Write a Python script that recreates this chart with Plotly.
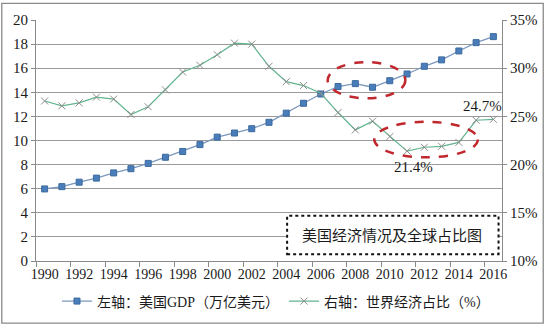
import plotly.graph_objects as go

# Years covered
years = list(range(1990, 2017))

# US GDP, trillions of USD (left axis)
us_gdp = [5.98, 6.17, 6.54, 6.88, 7.31, 7.66, 8.10, 8.61, 9.09, 9.66,
          10.28, 10.62, 10.98, 11.51, 12.27, 13.09, 13.86, 14.48, 14.72, 14.42,
          14.96, 15.52, 16.16, 16.69, 17.43, 18.12, 18.62]

# US share of world economy, % (right axis)
world_share = [26.6, 26.1, 26.4, 27.0, 26.8, 25.2, 26.0, 27.75, 29.6, 30.3,
               31.4, 32.6, 32.5, 30.2, 28.6, 28.2, 27.4, 25.4, 23.6, 24.5,
               22.9, 21.4, 21.8, 21.9, 22.3, 24.6, 24.7]

x_tick_years = list(range(1990, 2017, 2))

series_names = ["左轴：美国GDP（万亿美元）", "右轴：世界经济占比（%）"]
box_title = "美国经济情况及全球占比图"

SERIF = "'Liberation Serif', 'Times New Roman', 'DejaVu Serif', 'Noto Sans CJK SC', serif"
RED = "#C0282E"
TEXT = "#1a1a1a"

fig = go.Figure()

fig.add_trace(go.Scatter(
    x=years, y=us_gdp, name=series_names[0], mode="lines+markers",
    line=dict(color="#7C97BC", width=1.3),
    marker=dict(symbol="square", size=6, color="#4A7EBB",
                line=dict(color="#3B6A9E", width=1)),
    yaxis="y",
))

fig.add_trace(go.Scatter(
    x=years, y=world_share, name=series_names[1], mode="lines+markers",
    line=dict(color="#62B48E", width=1.2),
    marker=dict(symbol="x-thin", size=7, color="#8C8C8C",
                line=dict(color="#8C8C8C", width=1)),
    yaxis="y2",
))

# Value callouts for the end points of the share series
fig.add_annotation(x=2016, y=24.7, yref="y2", text="24.7%", showarrow=False,
                   xanchor="right", yanchor="middle", xshift=11, yshift=13,
                   font=dict(family=SERIF, size=15, color=TEXT))
fig.add_annotation(x=2011, y=21.4, yref="y2", text="21.4%", showarrow=False,
                   xanchor="center", yanchor="middle", xshift=6, yshift=-16,
                   font=dict(family=SERIF, size=15, color=TEXT))

# Dashed highlight ellipses
fig.add_shape(type="circle", xref="x", yref="y",
              x0=2006.4, x1=2010.9, y0=13.5, y1=16.5,
              line=dict(color=RED, width=2.5, dash="dash"))
fig.add_shape(type="circle", xref="x", yref="y",
              x0=2009.1, x1=2015.1, y0=8.6, y1=11.55,
              line=dict(color=RED, width=2.5, dash="dash"))

# Title box with dotted border
fig.add_shape(type="rect", xref="x", yref="y",
              x0=2004.05, x1=2016.3, y0=0.57, y1=3.75,
              line=dict(color="#111111", width=2, dash="dot"),
              fillcolor="white", layer="above")
fig.add_annotation(x=2010.15, y=2.15, xref="x", yref="y", text=box_title,
                   showarrow=False, font=dict(family=SERIF, size=15, color=TEXT))

# Outer chart border
fig.add_shape(type="rect", xref="paper", yref="paper",
              x0=-0.0735, x1=1.0885, y0=-0.258, y1=1.069,
              line=dict(color="#8A8A8A", width=1.3))

fig.update_layout(
    width=550, height=330,
    margin=dict(l=36, r=43, t=18, b=66),
    paper_bgcolor="white", plot_bgcolor="white",
    font=dict(family=SERIF, color=TEXT),
    showlegend=True,
    legend=dict(orientation="h", x=0.515, y=-0.168, xanchor="center", yanchor="middle",
                font=dict(family=SERIF, size=14, color=TEXT),
                itemwidth=30, tracegroupgap=0, bgcolor="rgba(0,0,0,0)"),
    xaxis=dict(
        range=[1989.5, 2016.5], tickmode="array", tickvals=x_tick_years,
        ticktext=[str(y) for y in x_tick_years], ticks="",
        showgrid=False, zeroline=False,
        showline=True, linecolor="#8A8A8A", linewidth=1,
        tickfont=dict(family=SERIF, size=14, color=TEXT),
        minor=dict(ticks="outside", tick0=1989.5, dtick=2, ticklen=5,
                   tickcolor="#8A8A8A", showgrid=False),
    ),
    yaxis=dict(
        range=[0, 20], dtick=2, showgrid=True, gridcolor="#9A9A9A", gridwidth=1,
        zeroline=False, showline=True, linecolor="#8A8A8A", linewidth=1,
        ticks="outside", ticklen=4, tickcolor="#8A8A8A",
        tickfont=dict(family=SERIF, size=15, color=TEXT),
    ),
    yaxis2=dict(
        range=[10, 35], dtick=5, overlaying="y", side="right",
        ticksuffix="%", showgrid=False, zeroline=False,
        showline=True, linecolor="#8A8A8A", linewidth=1,
        ticks="outside", ticklen=4, tickcolor="#8A8A8A",
        tickfont=dict(family=SERIF, size=15, color=TEXT),
    ),
)

fig.write_html("out.html")
